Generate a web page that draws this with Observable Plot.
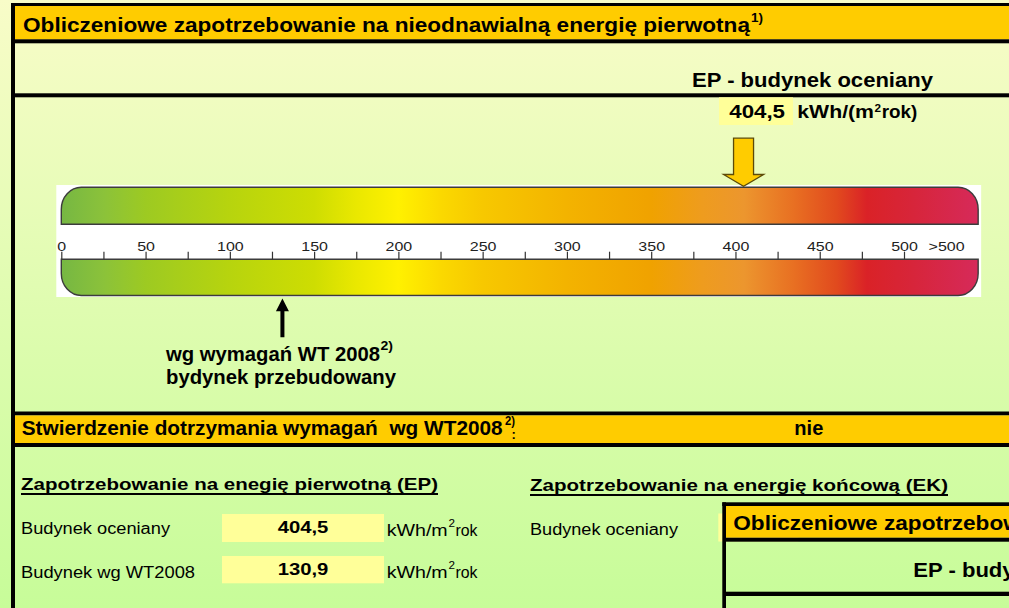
<!DOCTYPE html>
<html>
<head>
<meta charset="utf-8">
<script src="https://cdn.jsdelivr.net/npm/d3@7"></script>
<script src="https://cdn.jsdelivr.net/npm/@observablehq/plot@0.6"></script>
<style>
  html, body { margin: 0; padding: 0; background: #C8FC9A; }
  #chart { width: 1009px; height: 608px; overflow: hidden; }
</style>
</head>
<body>
<div id="chart"></div>
<script>
// ---------------- data ----------------
const epValue = 404.5;          // EP – budynek oceniany, kWh/(m²rok)
const wtValue = 130.9;          // EP – budynek wg WT2008
const compliance = "nie";
const majorTicks = [0, 50, 100, 150, 200, 250, 300, 350, 400, 450, 500];
const minorTicks = [25, 75, 125, 175, 225, 275, 325, 375, 425, 475];
const tickLabels = ["0", "50", "100", "150", "200", "250", "300", "350", "400", "450", "500", ">500"];
const tickLabelPos = [0, 50, 100, 150, 200, 250, 300, 350, 400, 450, 500, 525];
const scaleEnd = 544;
const gradStops  = [0, 25, 50, 100, 150, 175, 200, 225, 250, 300, 350, 380, 405, 435, 460, 478, 505, 544];
const gradColors = ["#76B743", "#8BC23A", "#9DCA22", "#B7D40E", "#CEDD02", "#EAE800", "#FFF100", "#FBD900",
                    "#F7C800", "#F3B300", "#F0A200", "#EE9C1E", "#EC962E", "#E86F22", "#E14A1E", "#DA2227",
                    "#D7253A", "#D62A5A"];

const fmt = v => d3.format(".1f")(v).replace(".", ",");
const tickTable = tickLabels.map((label, i) => ({label, value: tickLabelPos[i]}));

// ---------------- layout constants (pixels) ----------------
const W = 1009, H = 608;
const G = {panelTop: 185, panelBottom: 297, topBar: [187.3, 224.3], botBar: [259.3, 295.5],
           tickTop: 251.7, labelBase: 250, epTip: 185.7, wtTip: 298};

// block arrow (tip at origin) and thin up arrow
const downArrow = {draw(c) {
  c.moveTo(-10, -48); c.lineTo(10, -48); c.lineTo(10, -11.7); c.lineTo(20, -11.7);
  c.lineTo(0, 0); c.lineTo(-20, -11.7); c.lineTo(-10, -11.7); c.closePath();
}};
const upArrow = {draw(c) {
  c.moveTo(0, 0); c.lineTo(6.5, 12.7); c.lineTo(2, 12.7); c.lineTo(2, 38.7);
  c.lineTo(-2, 38.7); c.lineTo(-2, 12.7); c.lineTo(-6.5, 12.7); c.closePath();
}};

// ---------------- background ----------------
const backgroundMark = () => {
  const g = d3.create("svg:g");
  const lg = g.append("defs").append("linearGradient").attr("id", "bg-grad")
    .attr("x1", 0).attr("x2", 0).attr("y1", 0).attr("y2", 1);
  lg.append("stop").attr("offset", 0).attr("stop-color", "#F8FCC8");
  lg.append("stop").attr("offset", 1).attr("stop-color", "#C7FC99");
  g.append("rect").attr("width", W).attr("height", H).attr("fill", "url(#bg-grad)");
  return g.node();
};

// ---------------- gauge bars ----------------
const gaugeMark = (index, {x}) => {
  const g = d3.create("svg:g");
  const x0 = x(0), x1 = x(scaleEnd);
  const lg = g.append("defs").append("linearGradient").attr("id", "ep-grad")
    .attr("gradientUnits", "userSpaceOnUse").attr("x1", x0).attr("x2", x1).attr("y1", 0).attr("y2", 0);
  gradStops.forEach((v, i) => lg.append("stop").attr("offset", v / scaleEnd).attr("stop-color", gradColors[i]));
  g.append("rect").attr("x", x0 - 5).attr("y", G.panelTop).attr("width", x1 - x0 + 8)
    .attr("height", G.panelBottom - G.panelTop).attr("fill", "#fff");
  const rx = 20, ry = 22, [t0, t1] = G.topBar, [b0, b1] = G.botBar;
  const pTop = `M${x0},${t1}V${t0 + ry}A${rx},${ry} 0 0 1 ${x0 + rx},${t0}H${x1 - rx}A${rx},${ry} 0 0 1 ${x1},${t0 + ry}V${t1}Z`;
  const pBot = `M${x0},${b0}V${b1 - ry}A${rx},${ry} 0 0 0 ${x0 + rx},${b1}H${x1 - rx}A${rx},${ry} 0 0 0 ${x1},${b1 - ry}V${b0}Z`;
  [pTop, pBot].forEach(d => g.append("path").attr("d", d).attr("fill", "url(#ep-grad)")
    .attr("stroke", "#3c3c3c").attr("stroke-width", 1.4));
  return g.node();
};

// ---------------- spreadsheet frame & texts ----------------
const layoutMark = () => {
  const g = d3.create("svg:g").attr("class", "layout");
  const rect = (x, y, w, h, fill) => g.append("rect").attr("x", x).attr("y", y)
    .attr("width", w).attr("height", h).attr("fill", fill);
  const text = (s, x, y, o = {}) => {
    const t = g.append("text").attr("x", x).attr("y", y).attr("font-size", o.fs || 20)
      .attr("font-weight", o.normal ? "normal" : "bold").attr("fill", "#000")
      .attr("text-anchor", o.anchor || "start").text(s);
    if (o.w) t.attr("textLength", o.w).attr("lengthAdjust", "spacingAndGlyphs");
    return t;
  };
  const title = "Obliczeniowe zapotrzebowanie na nieodnawialną energię pierwotną";
  // top frame
  rect(15, 6, 994, 33.5, "#FFCC00");
  rect(11, 3, 998, 3, "#000");
  rect(11, 3, 4, 605, "#000");
  rect(15, 39.3, 994, 4, "#000");
  rect(15, 93.3, 994, 4, "#000");
  text(title, 23, 32, {w: 727});
  text("1)", 751, 22, {fs: 12, w: 12});
  text("EP - budynek oceniany", 692, 87, {w: 241});
  // value at top
  rect(719, 97.3, 74, 27.7, "#FFFF99");
  text(fmt(epValue), 729.3, 117.5, {fs: 18.5, w: 55.7});
  text("kWh/(m", 797.3, 117.5, {fs: 18.5, w: 76.7});
  text("2", 874.5, 112, {fs: 11, w: 6.5});
  text("rok)", 881.7, 117.5, {fs: 18.5, w: 35.6});
  // WT2008 note
  text("wg wymagań WT 2008", 166, 361, {w: 214});
  text("2)", 380.5, 350, {fs: 12, w: 12.5});
  text("bydynek przebudowany", 166, 384, {w: 230});
  // compliance bar
  rect(15, 411.5, 994, 4, "#000");
  rect(15, 415.5, 994, 27.5, "#FFCC00");
  rect(15, 443, 994, 4, "#000");
  text("Stwierdzenie dotrzymania wymagań  wg WT2008", 21.7, 435, {w: 481});
  text("2)", 505, 425, {fs: 12, w: 10});
  text(":", 511.5, 439, {fs: 13});
  text(compliance, 794.3, 435, {w: 29});
  // bottom left table
  text("Zapotrzebowanie na enegię pierwotną (EP)", 21, 490, {fs: 17, w: 417});
  rect(21, 493, 417, 2, "#000");
  text("Budynek oceniany", 21, 534, {fs: 16, w: 149, normal: true});
  rect(222, 514, 162, 28, "#FFFF99");
  text(fmt(epValue), 303, 532.7, {fs: 16, w: 50.7, anchor: "middle"});
  text("kWh/m", 386.7, 536, {fs: 16, w: 61, normal: true});
  text("2", 448.5, 527, {fs: 10, w: 6.5, normal: true});
  text("rok", 455.5, 536, {fs: 16, w: 22, normal: true});
  text("Budynek wg WT2008", 21, 577.5, {fs: 16, w: 174, normal: true});
  rect(222, 556, 162, 27.3, "#FFFF99");
  text(fmt(wtValue), 303, 575, {fs: 16, w: 50.7, anchor: "middle"});
  text("kWh/m", 386.7, 578.3, {fs: 16, w: 61, normal: true});
  text("2", 448.5, 569.3, {fs: 10, w: 6.5, normal: true});
  text("rok", 455.5, 578.3, {fs: 16, w: 22, normal: true});
  // bottom right
  text("Zapotrzebowanie na energię końcową (EK)", 530, 490.7, {fs: 17, w: 418});
  rect(530, 494, 418, 2, "#000");
  text("Budynek oceniany", 530, 535, {fs: 16, w: 148, normal: true});
  rect(718.3, 513.5, 80, 28, "#FFFF99");
  // nested copy of the frame (cut by the right edge, as in the reference)
  rect(726, 506, 283, 31.7, "#FFCC00");
  rect(722.3, 502.3, 287, 3.7, "#000");
  rect(722.3, 502.3, 3.7, 106, "#000");
  rect(726, 537.7, 283, 4, "#000");
  rect(726, 591.7, 283, 4.3, "#000");
  text(title, 733.3, 530, {w: 727});
  text("EP - budynek oceniany", 913.3, 577.3, {w: 241});
  return g.node();
};

// ---------------- plot ----------------
const chart = Plot.plot({
  width: W, height: H,
  marginLeft: 61.3, marginRight: W - 904, marginTop: 0, marginBottom: 0,
  x: {domain: [0, 500], axis: null},
  y: {type: "identity", axis: null},
  style: {fontFamily: "'Liberation Sans', Arial, sans-serif", background: "transparent", overflow: "hidden"},
  marks: [
    backgroundMark,
    gaugeMark,
    Plot.ruleX(majorTicks.concat(minorTicks), {x: d => d, y1: G.botBar[0], y2: G.tickTop, stroke: "#333", strokeWidth: 1.2}),
    Plot.text(tickTable, {x: "value", y: G.labelBase, text: "label", fontSize: 12.8, fill: "#222",
      lineAnchor: "bottom"}),
    Plot.dot([epValue], {x: d => d, y: G.epTip, symbol: downArrow, fill: "#FFCC00", stroke: "#5C4A08", strokeWidth: 1.3}),
    Plot.dot([wtValue], {x: d => d, y: G.wtTip, symbol: upArrow, fill: "#000", stroke: "none"}),
    layoutMark
  ]
});
document.getElementById("chart").append(chart);

// widen the tick labels to the reference's letter width
d3.select(chart).selectAll("text").filter(function () {
  return !this.closest(".layout");
}).each(function () {
  const w = this.getComputedTextLength();
  if (w > 0) {
    this.setAttribute("textLength", w * 1.25);
    this.setAttribute("lengthAdjust", "spacingAndGlyphs");
  }
});
</script>
</body>
</html>
